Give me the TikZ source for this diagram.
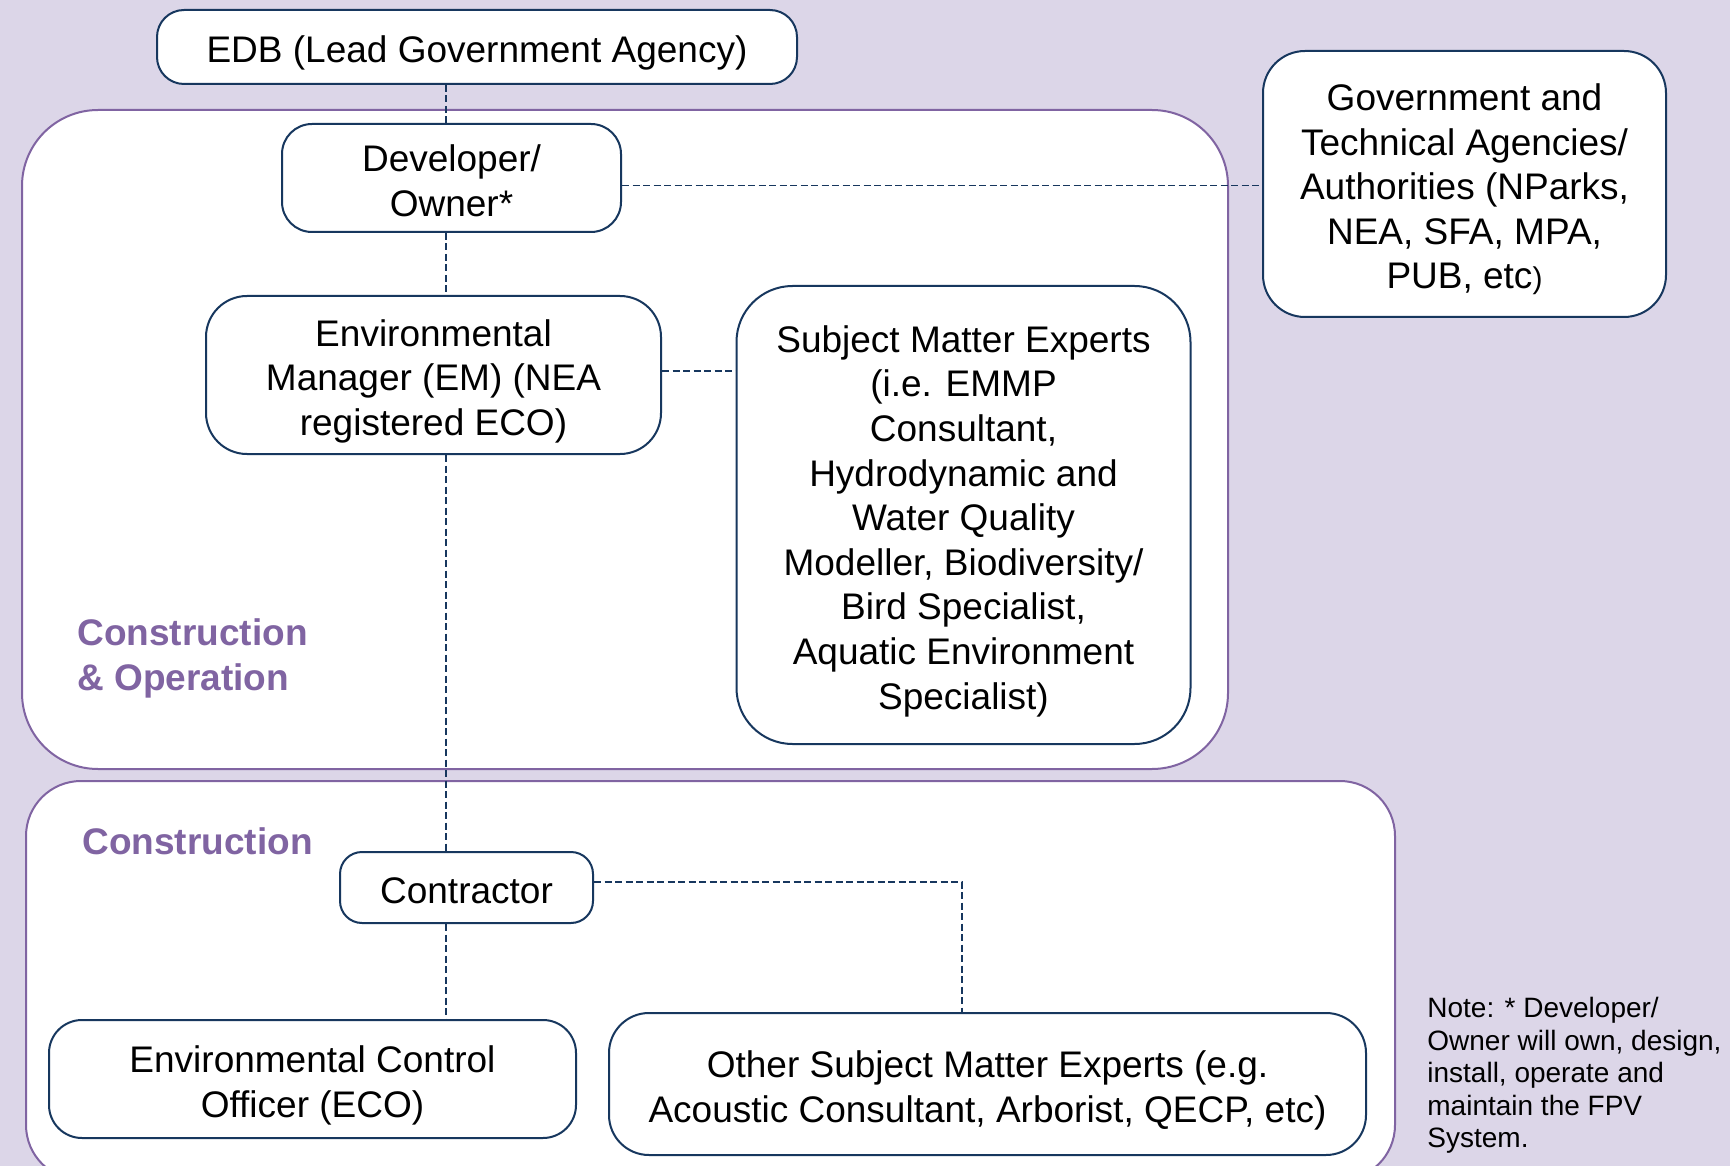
\documentclass[tikz,border=0pt]{standalone}
\usepackage{fontspec}
\setmainfont{Liberation Sans}
\usetikzlibrary{positioning}
\definecolor{lavender}{HTML}{DCD6E8}
\definecolor{phase}{HTML}{8064A2}
\definecolor{navy}{HTML}{17375E}
% struts so every box centres its text on full line heights
\newcommand\capstrut{\rule{0pt}{1.1em}}
\newcommand\descstrut{\rule[-0.25em]{0pt}{0.25em}}
\tikzset{role/.style={draw=navy,line width=1pt,fill=white,rounded corners=#1,align=center,
    inner sep=0pt,font=\fontsize{18.5}{22.3}\selectfont}}
\tikzset{sized/.style 2 args={minimum width=#1,minimum height=#2}}
\tikzset{link/.style={draw=navy,line width=0.75pt,dash pattern=on 3.5pt off 1.75pt}}
\tikzset{phasebox/.style={draw=phase,line width=1pt,fill=white}}
\tikzset{phaselabel/.style={text=phase,inner sep=0pt,align=left,font=\fontsize{18.5}{22.5}\selectfont\bfseries}}

\begin{document}
\begin{tikzpicture}[x=0.5pt,y=-0.5pt]
  \fill[lavender] (0,0) rectangle (1730,1166);
  \useasboundingbox (0,0) rectangle (1730,1166);
  \clip (0,0) rectangle (1730,1166);

  % the two phases
  \draw[phasebox,rounded corners=38pt] (22,110) rectangle (1228,769);
  \draw[phasebox,rounded corners=27.5pt] (26,781) rectangle (1395,1180);
  \node[phaselabel,anchor=north west] (coplabel) at (77,618) {Construction\\\& Operation};
  \node[phaselabel,anchor=base west] (conlabel) at (82,854) {Construction};

  % roles
  \node[role=13.5pt,sized={320pt}{37pt}] (edb) at (477,47)
    {\capstrut EDB (Lead Government Agency)\descstrut};
  \node[role=15pt,sized={169.5pt}{54pt}] (dev) at (451.5,178)
    {\capstrut Developer/\\Owner*\descstrut};
  \node[role=21pt,sized={201.5pt}{133pt}] (gov) at (1464.5,184)
    {\capstrut Government and\\Technical Agencies/\\Authorities (NParks,\\NEA, SFA, MPA,\\PUB, etc{\fontsize{15}{18}\selectfont)}\descstrut};
  \node[role=20.5pt,sized={227.5pt}{79pt}] (em) at (433.5,375)
    {\capstrut Environmental\\Manager (EM) (NEA\\registered ECO)\descstrut};
  \node[role=28pt,sized={227pt}{229pt}] (sme) at (963.5,515)
    {\capstrut Subject Matter Experts\\(i.e. EMMP\\Consultant,\\Hydrodynamic and\\Water Quality\\Modeller, Biodiversity/\\Bird Specialist,\\Aquatic Environment\\Specialist)\descstrut};
  \node[role=11pt,sized={126.5pt}{35.5pt}] (ctr) at (466.5,887.5)
    {\capstrut Contractor\descstrut};
  \node[role=16.5pt,sized={263.5pt}{59pt}] (eco) at (312.5,1079)
    {\capstrut Environmental Control\\Officer (ECO)\descstrut};
  \node[role=20pt,sized={378.5pt}{71pt}] (osme) at (987.5,1084)
    {\capstrut Other Subject Matter Experts (e.g.\\Acoustic Consultant, Arborist, QECP, etc)\descstrut};

  \node[anchor=north west,inner sep=0pt,align=left,font=\fontsize{14}{16.25}\selectfont] (note) at (1427,997)
    {Note: * Developer/\\Owner will own, design,\\install, operate and\\maintain the FPV\\System.};

  % reporting lines
  \coordinate (spine) at (446,0);
  \coordinate (drop) at (962,0);
  \draw[link] (edb.south -| spine) -- (dev.north -| spine);
  \draw[link] (dev.south -| spine) -- (em.north -| spine);
  \draw[link] (em.south -| spine) -- (ctr.north -| spine);
  \draw[link] (ctr.south -| spine) -- (eco.north -| spine);
  \draw[link] ([yshift=-0.75pt]dev.east |- gov.west) -- ([yshift=-0.75pt]gov.west);
  \draw[link] ([yshift=2pt]em.east) -- ([yshift=2pt]em.east -| sme.west);
  \draw[link] ([yshift=2.75pt]ctr.east) -| (osme.north -| drop);
\end{tikzpicture}
\end{document}
